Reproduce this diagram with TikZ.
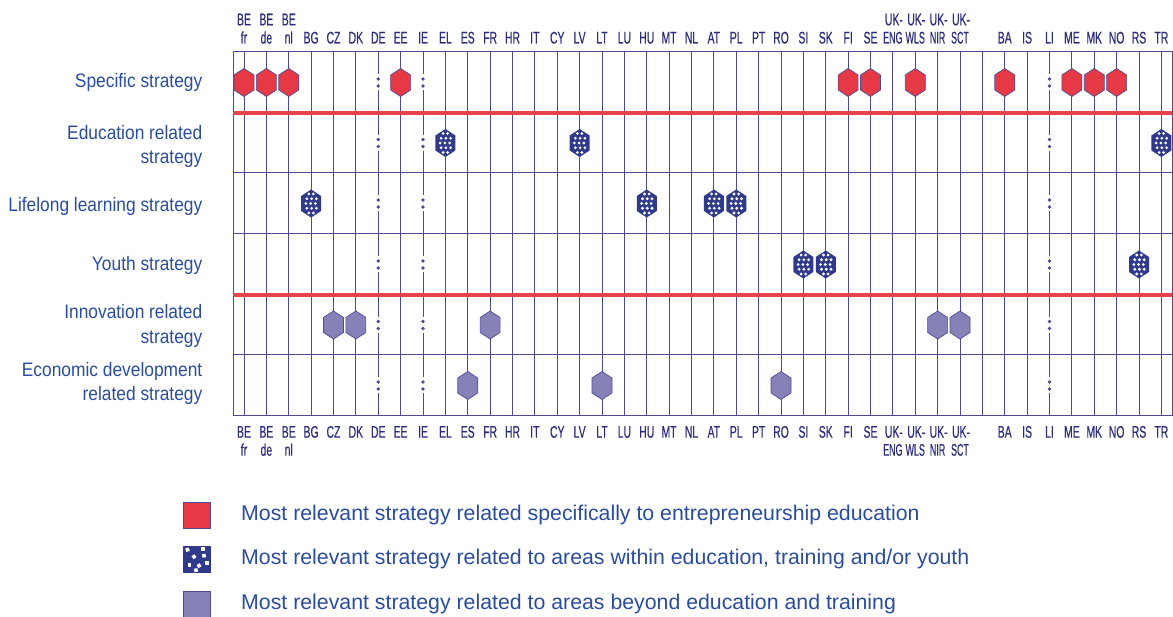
\documentclass[tikz,border=0pt]{standalone}
\usepackage{fontspec}
\setmainfont{Liberation Sans}
\newfontfamily\condfont[FakeStretch=0.62,FakeBold=0.4]{Liberation Sans}
\newfontfamily\condnarrow[FakeStretch=0.53,FakeBold=0.4]{Liberation Sans}
\newfontfamily\labfont[FakeStretch=0.89]{Liberation Sans}
\definecolor{navytxt}{HTML}{2B2D7C}
\definecolor{rowblue}{HTML}{2A4C9E}
\definecolor{gridc}{HTML}{4C4A96}
\definecolor{redfill}{HTML}{E53946}
\definecolor{redln}{HTML}{E8424C}
\definecolor{purfill}{HTML}{8682B7}
\definecolor{purbord}{HTML}{4F4D98}
\definecolor{dotnavy}{HTML}{2F3B8A}
\tikzset{
  gridline/.style={draw=gridc, line width=1pt},
  redline/.style={draw=redln, line width=3.6pt},
  ctry/.style={font=\condfont\fontsize{16.8}{18}\selectfont, text=navytxt, inner sep=0pt, anchor=base},
  ctryn/.style={ctry, font=\condnarrow\fontsize{16.8}{18}\selectfont},
  rowlab/.style={font=\labfont\fontsize{19.5}{24}\selectfont, text=rowblue, inner sep=0pt, anchor=base east},
  legtext/.style={font=\fontsize{21.3}{25}\selectfont, text=rowblue, inner sep=0pt, anchor=base west},
  legsq/.style={minimum width=27pt, minimum height=26pt, inner sep=0pt, line width=0.7pt},
  hexpath/.style={line width=0.7pt},
  pics/hexr/.style={code={\draw[hexpath, draw=purbord, fill=redfill] (0,-14)--(10,-7.5)--(10,7.5)--(0,14)--(-10,7.5)--(-10,-7.5)--cycle;}},
  pics/hexp/.style={code={\draw[hexpath, draw=purbord, fill=purfill] (0,-14)--(10,-7.5)--(10,7.5)--(0,14)--(-10,7.5)--(-10,-7.5)--cycle;}},
  pics/hexd/.style={code={
    \fill[dotnavy] (0,-14)--(10,-7.5)--(10,7.5)--(0,14)--(-10,7.5)--(-10,-7.5)--cycle;
    \foreach \xx in {-2.3,2.3} {\fill[white] (\xx,-9.5) circle (1.55); \fill[white] (\xx,9.5) circle (1.55);}
    \foreach \xx in {-4.3,0.5,5.2} {\fill[white] (\xx,-4.75) circle (1.55); \fill[white] (\xx,4.75) circle (1.55);}
    \foreach \xx in {-5.2,-0.5,4.3} \fill[white] (\xx,0) circle (1.55);
  }},
}
\begin{document}
\begin{tikzpicture}[x=1pt,y=-1pt]
\useasboundingbox (0,0) rectangle (1173,617);
% vertical column lines
\foreach \i in {0,...,5,7,9,10,...,35,37,38,...,41}
  \draw[gridline] ({244+22.375*\i},52) -- ({244+22.375*\i},416);
% broken lines with colon marks (DE, IE, LI)
\foreach \i in {6,8,36} {
  \foreach \t/\b in {52/113,113/173,173/234,234/295,295/355,355/416} {
    \pgfmathsetmacro{\cc}{(\t+\b)/2}
    \draw[gridline] ({244+22.375*\i},\t) -- ({244+22.375*\i},\cc-8);
    \draw[gridline] ({244+22.375*\i},\cc+8) -- ({244+22.375*\i},\b);
    \fill[gridc] ({244+22.375*\i},\cc-3.5) circle (1.8);
    \fill[gridc] ({244+22.375*\i},\cc+3.5) circle (1.8);
  }
}
% horizontal lines and frame
\draw[gridline] (233,52) rectangle (1172,416);
\foreach \y in {173,234,355} \draw[gridline] (233,\y) -- (1172,\y);
\draw[redline] (233,113) -- (1172,113);
\draw[redline] (233,295) -- (1172,295);
% hexagons
\foreach \c in {0,1,2,7,27,28,30,34,37,38,39} \pic at ({244+22.375*\c},82.5) {hexr};
\foreach \c in {9,15,41} \pic at ({244+22.375*\c},143) {hexd};
\foreach \c in {3,18,21,22} \pic at ({244+22.375*\c},203.5) {hexd};
\foreach \c in {25,26,40} \pic at ({244+22.375*\c},264.5) {hexd};
\foreach \c in {4,5,11,31,32} \pic at ({244+22.375*\c},325) {hexp};
\foreach \c in {10,16,24} \pic at ({244+22.375*\c},385.5) {hexp};
% country labels, two-line
\foreach \i/\a/\b in {0/BE/fr,1/BE/de,2/BE/nl} {
  \node[ctry] (ta\i) at ({244+22.375*\i},25.3) {\a};
  \node[ctry] (tb\i) at ({244+22.375*\i},43.5) {\b};
  \node[ctry] (ba\i) at ({244+22.375*\i},437.7) {\a};
  \node[ctry] (bb\i) at ({244+22.375*\i},455.7) {\b};
}
\foreach \i/\a/\b in {29/UK-/ENG,30/UK-/WLS,31/UK-/NIR,32/UK-/SCT} {
  \node[ctry] (ta\i) at ({244+22.375*\i+1},25.3) {\a};
  \node[ctryn] (tb\i) at ({244+22.375*\i},43.5) {\b};
  \node[ctry] (ba\i) at ({244+22.375*\i+1},437.7) {\a};
  \node[ctryn] (bb\i) at ({244+22.375*\i},455.7) {\b};
}
% country labels, one-line
\foreach \i/\a in {3/BG,4/CZ,5/DK,6/DE,7/EE,8/IE,9/EL,10/ES,11/FR,12/HR,13/IT,14/CY,15/LV,16/LT,17/LU,18/HU,19/MT,20/NL,21/AT,22/PL,23/PT,24/RO,25/SI,26/SK,27/FI,28/SE,34/BA,35/IS,36/LI,37/ME,38/MK,39/NO,40/RS,41/TR} {
  \node[ctry] (tb\i) at ({244+22.375*\i},43.5) {\a};
  \node[ctry] (ba\i) at ({244+22.375*\i},437.7) {\a};
}
% row labels
\node[rowlab] (r1) at (202.5,87.7) {Specific strategy};
\node[rowlab] (r2a) at (202.5,140) {Education related};
\node[rowlab] (r2b) at (202.5,164) {strategy};
\node[rowlab] (r3) at (202.5,211.7) {Lifelong learning strategy};
\node[rowlab] (r4) at (202.5,271) {Youth strategy};
\node[rowlab] (r5a) at (202.5,319) {Innovation related};
\node[rowlab] (r5b) at (202.5,343.3) {strategy};
\node[rowlab] (r6a) at (202.5,376.7) {Economic development};
\node[rowlab] (r6b) at (202.5,400.7) {related strategy};
% legend
\node[legsq, draw=purbord, fill=redfill] (sq1) at (197,515) {};
\node[legsq, draw=dotnavy, fill=dotnavy] (sq2) at (197,559.7) {};
\foreach \dx/\dy/\r in {-9.5/-10/20,6/-10.5/0,-3/-3/35,7/-4/10,-7.5/5/0,2/6/30,10/3/0,-1/10.5/15} {
  \fill[white, rotate around={\r:(197+\dx,559.7+\dy)}] (197+\dx-1.8,559.7+\dy-1.8) rectangle (197+\dx+1.8,559.7+\dy+1.8);
}
\node[legsq, draw=purbord, fill=purfill] (sq3) at (197,604) {};
\node[legtext] (l1) at (241,520) {Most relevant strategy related specifically to entrepreneurship education};
\node[legtext] (l2) at (241,564) {Most relevant strategy related to areas within education, training and/or youth};
\node[legtext] (l3) at (241,609.5) {Most relevant strategy related to areas beyond education and training};
\end{tikzpicture}
\end{document}
